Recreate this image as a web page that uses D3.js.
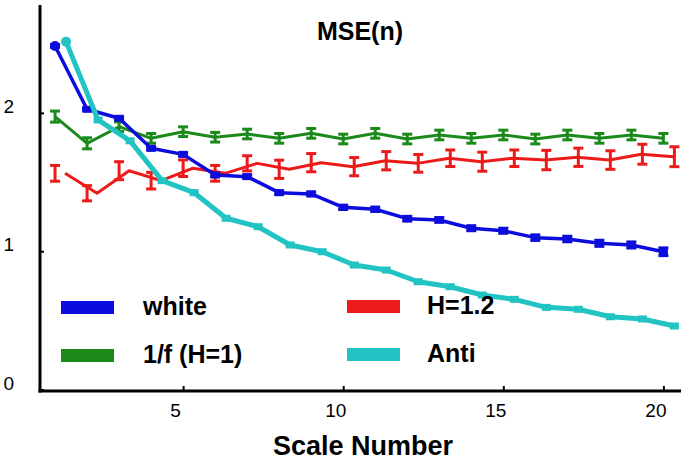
<!DOCTYPE html>
<html>
<head>
<meta charset="utf-8">
<script src="https://cdn.jsdelivr.net/npm/d3@7"></script>
<style>
  html, body { margin: 0; padding: 0; background: #fff; }
  svg { display: block; font-family: "Liberation Sans", Arial, sans-serif; }
</style>
</head>
<body>
<svg id="chart" width="685" height="460"></svg>
<script>
// ---- data ----
const scaleNumbers = [1,2,3,4,5,6,7,8,9,10,11,12,13,14,15,16,17,18,19,20];
const whiteMSE = [2.484,2.026,1.961,1.744,1.700,1.551,1.539,1.423,1.414,1.317,1.303,1.235,1.226,1.166,1.148,1.098,1.088,1.057,1.045,0.996];
const whiteErr = [0.010,0.010,0.010,0.012,0.012,0.012,0.012,0.013,0.013,0.015,0.015,0.017,0.017,0.018,0.018,0.020,0.020,0.022,0.022,0.028];
const pinkMSE  = [1.973,1.780,1.900,1.816,1.864,1.824,1.847,1.816,1.852,1.811,1.852,1.811,1.840,1.816,1.840,1.811,1.840,1.816,1.840,1.816];
const pinkErr  = [0.040,0.040,0.035,0.035,0.035,0.035,0.035,0.035,0.035,0.035,0.035,0.035,0.035,0.035,0.035,0.035,0.035,0.035,0.035,0.035];
const h12MSE   = [1.563,1.419,1.582,1.510,1.600,1.563,1.635,1.592,1.640,1.611,1.654,1.635,1.672,1.647,1.672,1.659,1.679,1.659,1.701,1.683];
const h12Err   = [0.057,0.055,0.065,0.060,0.060,0.057,0.055,0.066,0.066,0.066,0.066,0.064,0.060,0.069,0.060,0.070,0.066,0.067,0.072,0.072];
const antiMSE  = [2.515,1.949,1.798,1.510,1.423,1.238,1.177,1.045,0.996,0.900,0.864,0.779,0.743,0.683,0.652,0.594,0.580,0.526,0.510,0.459];
const yTicks = [0, 1, 2];
const xTicks = [5, 10, 15, 20];
const legendNames = ["white", "1/f (H=1)", "H=1.2", "Anti"];
const titleText = "MSE(n)";
const xTitle = "Scale Number";

// ---- styles ----
const C = { white: "#0c0cdc", pink: "#1b8a1b", h12: "#ee1a1a", anti: "#22c3c3" };

const svg = d3.select("#chart");
const x = d3.scaleLinear().domain([0.53, 20.55]).range([40, 681]);
const y = d3.scaleLinear().domain([0, 2.78]).range([389.5, 5]);

const series = [
  { key: "pink", vals: pinkMSE, err: pinkErr, color: C.pink, lw: 3, lineShift: 0, barShift: () => 0, markers: false },
  { key: "h12", vals: h12MSE, err: h12Err, color: C.h12, lw: 3, lineShift: 10, barShift: n => (n >= 10 ? 11 : 0), markers: false },
  { key: "white", vals: whiteMSE, err: whiteErr, color: C.white, lw: 3.5, lineShift: 0, barShift: () => 0, markers: true },
  { key: "anti", vals: antiMSE, err: null, color: C.anti, lw: 5, lineShift: 11, barShift: () => 11, markers: true }
];

const line = d3.line();

series.forEach(s => {
  const g = svg.append("g");
  const pts = scaleNumbers.map((n, i) => [x(n) + s.lineShift, y(s.vals[i])]);
  g.append("path").attr("d", line(pts)).attr("fill", "none")
    .attr("stroke", s.color).attr("stroke-width", s.lw).attr("stroke-linejoin", "round");
  if (s.err) {
    scaleNumbers.forEach((n, i) => {
      const cx = x(n) + s.barShift(n);
      const y0 = y(s.vals[i] - s.err[i]), y1 = y(s.vals[i] + s.err[i]);
      g.append("line").attr("x1", cx).attr("x2", cx).attr("y1", y0).attr("y2", y1)
        .attr("stroke", s.color).attr("stroke-width", 3);
      [y0, y1].forEach(yy => g.append("line").attr("x1", cx - 5).attr("x2", cx + 5)
        .attr("y1", yy).attr("y2", yy).attr("stroke", s.color).attr("stroke-width", 3));
    });
  }
  if (s.markers) {
    scaleNumbers.forEach((n, i) => {
      const cx = x(n) + s.lineShift, cy = y(s.vals[i]);
      if (i === 0) {
        g.append("circle").attr("cx", cx).attr("cy", cy).attr("r", 5).attr("fill", s.color);
      } else {
        g.append("rect").attr("x", cx - 4.5).attr("y", cy - 3.5).attr("width", 9).attr("height", 7).attr("fill", s.color);
      }
    });
  }
});

// ---- axes ----
const yAxis = svg.append("g").attr("transform", "translate(40,0)")
  .call(d3.axisLeft(y).tickValues(yTicks).tickSize(-4).tickFormat(d3.format("d")));
yAxis.select(".domain").remove();
yAxis.selectAll(".tick line").attr("stroke", "#000").attr("stroke-width", 2);
yAxis.selectAll("text").attr("x", -26).attr("y", -7).attr("dy", "0.35em")
  .attr("text-anchor", "end").style("font-size", "19px").style("font-family", "Liberation Sans, Arial, sans-serif").attr("fill", "#000");

const xAxis = svg.append("g").attr("transform", "translate(0,391)")
  .call(d3.axisBottom(x).tickValues(xTicks).tickSize(-5).tickFormat(d3.format("d")));
xAxis.select(".domain").remove();
xAxis.selectAll(".tick line").attr("stroke", "#000").attr("stroke-width", 2);
xAxis.selectAll("text").attr("x", -8).attr("y", 26).attr("dy", 0)
  .style("font-size", "19px").style("font-family", "Liberation Sans, Arial, sans-serif").attr("fill", "#000");

svg.append("line").attr("x1", 40).attr("x2", 40).attr("y1", 5).attr("y2", 392.5)
  .attr("stroke", "#000").attr("stroke-width", 3);
svg.append("line").attr("x1", 38.5).attr("x2", 681).attr("y1", 391).attr("y2", 391)
  .attr("stroke", "#000").attr("stroke-width", 3);

// ---- titles ----
svg.append("text").attr("x", 360).attr("y", 40).attr("text-anchor", "middle")
  .style("font-size", "25px").style("font-weight", "bold").text(titleText);
svg.append("text").attr("x", 363).attr("y", 455).attr("text-anchor", "middle")
  .style("font-size", "27px").style("font-weight", "bold").text(xTitle);

// ---- legend ----
const legendColors = [C.white, C.pink, C.h12, C.anti];
const legendPos = [[61, 301], [61, 349], [347, 300], [347, 348]];
legendNames.forEach((name, i) => {
  const [lx, ly] = legendPos[i];
  svg.append("rect").attr("x", lx).attr("y", ly).attr("width", 53).attr("height", 13).attr("fill", legendColors[i]);
  svg.append("text").attr("x", lx + (i < 2 ? 82 : 80)).attr("y", ly + 14)
    .style("font-size", "25px").style("font-weight", "bold").text(name);
});
</script>
</body>
</html>
